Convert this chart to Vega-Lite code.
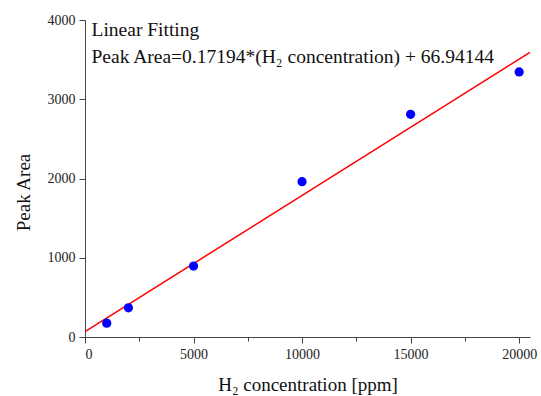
{
  "$schema": "https://vega.github.io/schema/vega-lite/v6.json",
  "width": 445,
  "height": 317,
  "autosize": "none",
  "padding": {"left": 85, "top": 20, "right": 11, "bottom": 59},
  "background": "white",
  "config": {
    "view": {"stroke": null},
    "font": "Times New Roman",
    "axis": {
      "domainColor": "#444",
      "tickColor": "#444",
      "grid": false,
      "labelFont": "Times New Roman",
      "titleFont": "Times New Roman",
      "labelColor": "#222",
      "titleColor": "#111",
      "labelFontSize": 14,
      "titleFontSize": 19,
      "titleFontWeight": "normal"
    }
  },
  "datasets": {
    "pts": [
      {"conc": 1000, "area": 175},
      {"conc": 2000, "area": 368},
      {"conc": 5000, "area": 895},
      {"conc": 10000, "area": 1960},
      {"conc": 15000, "area": 2810},
      {"conc": 20000, "area": 3345}
    ],
    "fit": [
      {"conc": 0, "area": 66.94},
      {"conc": 20500, "area": 3591.7}
    ],
    "notes": [
      {"conc": 300, "area": 3800, "label": "Linear Fitting"},
      {"conc": 300, "area": 3460, "label": "Peak Area=0.17194*(H₂ concentration) + 66.94144"}
    ]
  },
  "layer": [
    {
      "data": {"name": "fit"},
      "mark": {"type": "line", "color": "#ff0000", "strokeWidth": 1.5, "clip": true},
      "encoding": {
        "x": {
          "field": "conc", "type": "quantitative",
          "scale": {"domain": [0, 20500], "nice": false},
          "axis": {
            "title": "H₂ concentration [ppm]",
            "values": [0, 2500, 5000, 7500, 10000, 12500, 15000, 17500, 20000],
            "labelExpr": "datum.value % 5000 == 0 ? format(datum.value, 'd') : ''",
            "tickSize": {"condition": {"test": "datum.value % 5000 == 0", "value": 6}, "value": 4},
            "labelPadding": 4,
            "titlePadding": 14
          }
        },
        "y": {
          "field": "area", "type": "quantitative",
          "scale": {"domain": [0, 4000], "nice": false},
          "axis": {
            "title": "Peak Area",
            "values": [0, 500, 1000, 1500, 2000, 2500, 3000, 3500, 4000],
            "labelExpr": "datum.value % 1000 == 0 ? format(datum.value, 'd') : ''",
            "tickSize": {"condition": {"test": "datum.value % 1000 == 0", "value": 6}, "value": 4},
            "labelPadding": 4,
            "titlePadding": 14,
            "titleY": 172
          }
        }
      }
    },
    {
      "data": {"name": "pts"},
      "mark": {"type": "circle", "color": "#0000ff", "opacity": 1, "size": 85},
      "encoding": {
        "x": {"field": "conc", "type": "quantitative"},
        "y": {"field": "area", "type": "quantitative"}
      }
    },
    {
      "data": {"name": "notes"},
      "mark": {"type": "text", "align": "left", "baseline": "alphabetic", "font": "Times New Roman", "fontSize": 19.5, "color": "#111"},
      "encoding": {
        "x": {"field": "conc", "type": "quantitative"},
        "y": {"field": "area", "type": "quantitative"},
        "text": {"field": "label"}
      }
    }
  ]
}
